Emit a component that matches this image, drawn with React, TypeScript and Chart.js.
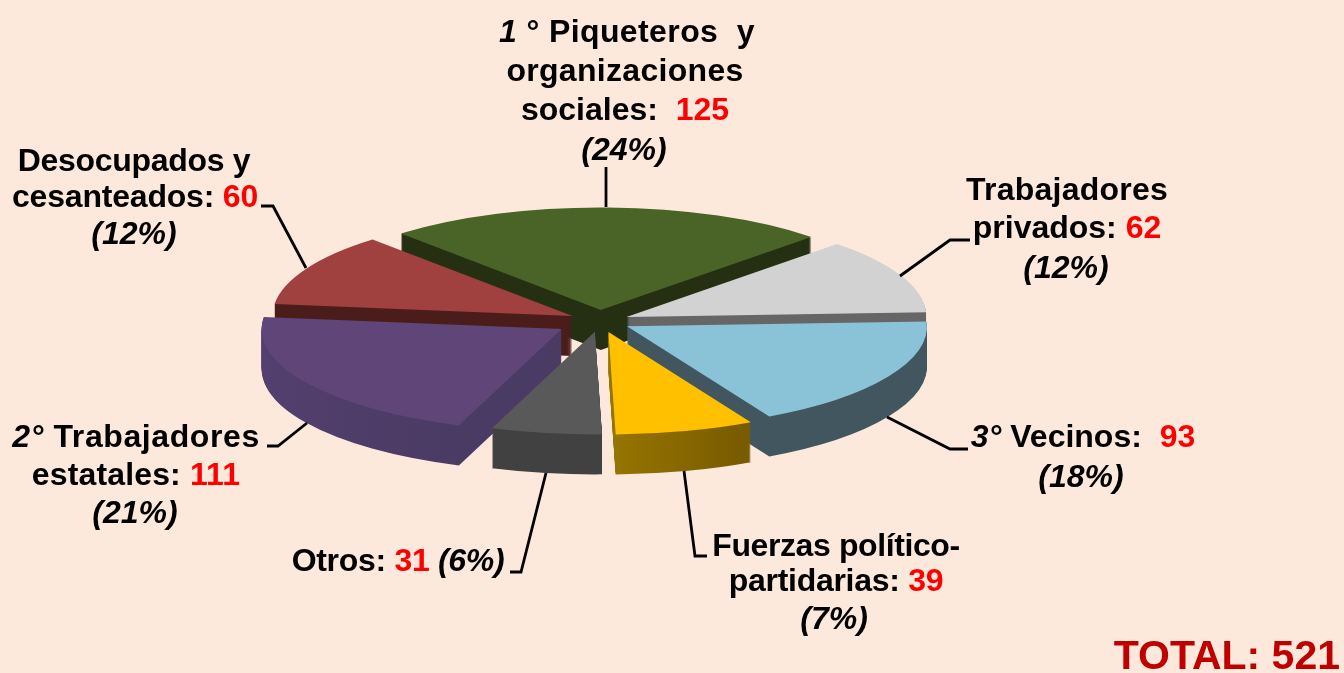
import React, { useEffect, useRef } from "react";
import { Chart, registerables } from "chart.js";

Chart.register(...registerables);

// ---- data ----
const categories = [
  "Piqueteros y organizaciones sociales",
  "Trabajadores privados",
  "Vecinos",
  "Fuerzas político-partidarias",
  "Otros",
  "Trabajadores estatales",
  "Desocupados y cesanteados",
];
const values = [125, 62, 93, 39, 31, 111, 60];
const percents = ["(24%)", "(12%)", "(18%)", "(7%)", "(6%)", "(21%)", "(12%)"];
const totalValue = 521;

// ---- style ----
const topColors = ["#4A6327", "#D2D2D2", "#8AC3D8", "#FFC000", "#595959", "#5F4578", "#A0413F"];
const sideColors = [
  ["#252F12", "#252F12"],
  ["#666666", "#666666"],
  ["#41565E", "#41565E"],
  ["#AC8800", "#7A5C00"],
  ["#414141", "#414141"],
  ["#564070", "#4A3B64"],
  ["#4A1C1A", "#4A1C1A"],
];
const explode = [32, 29, 31, 33, 32, 45, 31];
const BG = "#FDE9DB";
const K = 0.342;
const DEPTH = 40;
const RADIUS = 300;

type Run = { t: string; red?: boolean; it?: boolean };
type Line = { x: number; y: number; ls?: number; runs: Run[] };

const v = (i: number) => String(values[i]);
const labelLines: Line[] = [
  { x: 627, y: 42, ls: 0.4, runs: [{ t: "1", it: true }, { t: " ° Piqueteros  y" }] },
  { x: 625, y: 81, ls: 0.3, runs: [{ t: "organizaciones" }] },
  { x: 625, y: 120, runs: [{ t: "sociales:  " }, { t: v(0), red: true }] },
  { x: 624, y: 160, runs: [{ t: percents[0], it: true }] },
  { x: 1067, y: 200, ls: 0.25, runs: [{ t: "Trabajadores" }] },
  { x: 1067, y: 238, runs: [{ t: "privados: " }, { t: v(1), red: true }] },
  { x: 1066, y: 278, runs: [{ t: percents[1], it: true }] },
  { x: 1083, y: 447, runs: [{ t: "3°", it: true }, { t: " Vecinos:  " }, { t: v(2), red: true }] },
  { x: 1081, y: 487, runs: [{ t: percents[2], it: true }] },
  { x: 836, y: 556, ls: -0.4, runs: [{ t: "Fuerzas político-" }] },
  { x: 836, y: 591, ls: -0.3, runs: [{ t: "partidarias: " }, { t: v(3), red: true }] },
  { x: 834, y: 629, runs: [{ t: percents[3], it: true }] },
  { x: 398, y: 571, ls: -0.3, runs: [{ t: "Otros: " }, { t: v(4), red: true }, { t: " " }, { t: percents[4], it: true }] },
  { x: 136, y: 447, ls: 0.6, runs: [{ t: "2°", it: true }, { t: " Trabajadores" }] },
  { x: 136, y: 485, ls: 0.15, runs: [{ t: "estatales: " }, { t: v(5), red: true }] },
  { x: 135, y: 523, runs: [{ t: percents[5], it: true }] },
  { x: 134, y: 171, ls: -0.3, runs: [{ t: "Desocupados y" }] },
  { x: 135, y: 207, ls: -0.2, runs: [{ t: "cesanteados: " }, { t: v(6), red: true }] },
  { x: 134, y: 244, runs: [{ t: percents[6], it: true }] },
];

const leaders: number[][][] = [
  [[606, 167], [606, 207]],
  [[970, 240], [950, 240], [900, 276]],
  [[968, 449], [950, 449], [887, 417]],
  [[707, 556], [695, 556], [684, 471]],
  [[510, 572], [521, 572], [546, 473]],
  [[267, 446], [278, 446], [307, 423]],
  [[261, 206], [273, 206], [306, 268]],
];

const font = (it?: boolean, size = 32) =>
  `${it ? "italic " : ""}bold ${size}px "Liberation Sans", Arial, sans-serif`;

const pie3d = {
  id: "pie3d",
  beforeDatasetDraw(chart: any, args: any) {
    const ctx: CanvasRenderingContext2D = chart.ctx;
    const arcs: any[] = args.meta.data;
    // Sine of a canvas angle grows toward the viewer, so paint back to front.
    const order = arcs
      .map((a, i) => ({ a, i, mid: (a.startAngle + a.endAngle) / 2 }))
      .sort((p, q) => Math.sin(p.mid) - Math.sin(q.mid));
    for (const { a, i, mid } of order) {
      const paint = (dy: number, fill: any) => {
        const saved = a.options;
        a.options = { ...saved, backgroundColor: fill, borderWidth: 0 };
        ctx.save();
        ctx.translate(a.x, a.y + dy);
        ctx.scale(1, K);
        ctx.translate(Math.cos(mid) * explode[i], Math.sin(mid) * explode[i]);
        ctx.translate(-a.x, -a.y);
        a.draw(ctx);
        ctx.restore();
        a.options = saved;
      };
      const g = ctx.createLinearGradient(
        a.x + Math.cos(mid) * explode[i] - RADIUS * 0.5 + Math.cos(mid) * RADIUS * 0.6,
        0,
        a.x + Math.cos(mid) * explode[i] + RADIUS * 0.25 + Math.cos(mid) * RADIUS * 0.6,
        0
      );
      g.addColorStop(0, sideColors[i][0]);
      g.addColorStop(1, sideColors[i][1]);
      for (let d = DEPTH; d > 0; d--) paint(d, g);
      paint(0, topColors[i]);
    }
    return false;
  },
  afterDraw(chart: any) {
    const ctx: any = chart.ctx;
    ctx.save();
    ctx.strokeStyle = "#000";
    ctx.lineWidth = 2.8;
    ctx.lineJoin = "miter";
    for (const pts of leaders) {
      ctx.beginPath();
      pts.forEach(([x, y], i) => (i ? ctx.lineTo(x, y) : ctx.moveTo(x, y)));
      ctx.stroke();
    }
    ctx.textBaseline = "alphabetic";
    ctx.textAlign = "left";
    for (const line of labelLines) {
      ctx.letterSpacing = `${line.ls || 0}px`;
      let w = 0;
      for (const r of line.runs) {
        ctx.font = font(r.it);
        w += ctx.measureText(r.t).width;
      }
      let x = line.x - w / 2;
      for (const r of line.runs) {
        ctx.font = font(r.it);
        ctx.fillStyle = r.red ? "#FF0000" : "#000000";
        ctx.fillText(r.t, x, line.y);
        x += ctx.measureText(r.t).width;
      }
    }
    ctx.letterSpacing = "0px";
    ctx.font = font(false, 41);
    ctx.fillStyle = "#C00000";
    ctx.textAlign = "right";
    ctx.fillText(`TOTAL: ${totalValue}`, 1340, 669);
    ctx.restore();
  },
};

export default function App() {
  const ref = useRef<HTMLCanvasElement | null>(null);
  useEffect(() => {
    document.body.style.margin = "0";
    document.body.style.background = BG;
    const chart = new Chart(ref.current as HTMLCanvasElement, {
      type: "pie",
      data: {
        labels: categories,
        datasets: [{ data: values, backgroundColor: topColors, borderWidth: 0 }],
      },
      options: {
        responsive: false,
        animation: false,
        rotation: -41.8,
        radius: RADIUS,
        layout: { padding: { right: 144, bottom: 31 } },
        plugins: { legend: { display: false }, tooltip: { enabled: false }, title: { display: false } },
      } as any,
      plugins: [pie3d as any],
    });
    return () => chart.destroy();
  }, []);
  return (
    <div style={{ position: "fixed", inset: 0, background: BG, overflow: "hidden" }}>
      <canvas ref={ref} width={1344} height={673} style={{ display: "block" }} />
    </div>
  );
}
